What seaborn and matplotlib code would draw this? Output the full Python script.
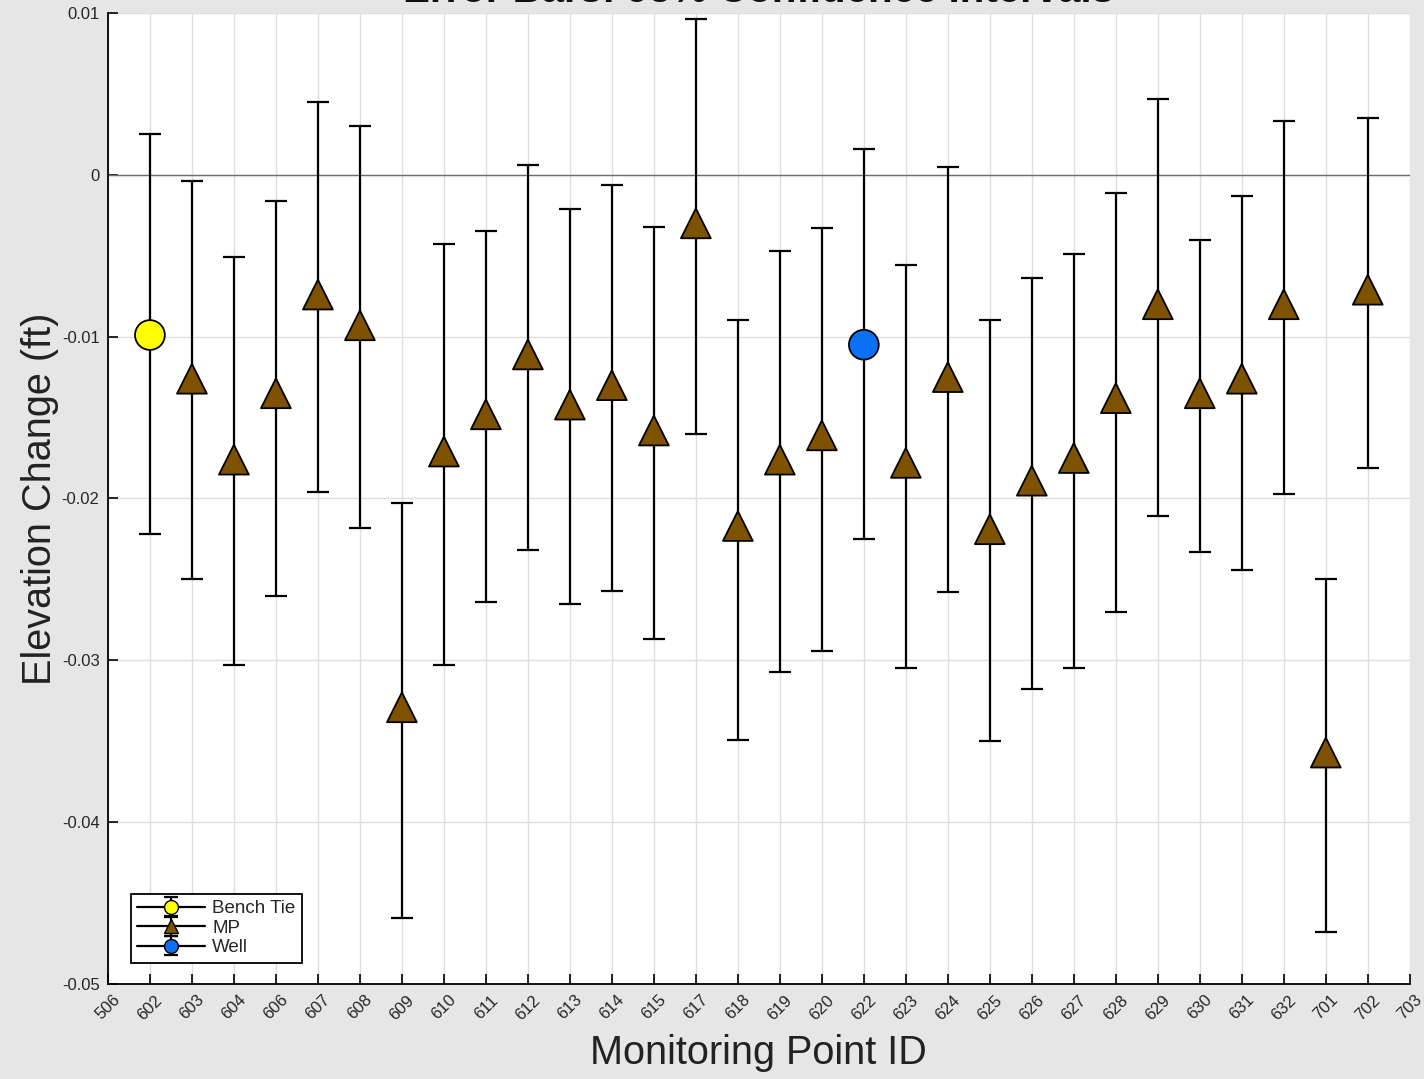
import numpy as np
import pandas as pd
import seaborn as sns
import matplotlib.pyplot as plt

# monitoring point ids along the x axis (506 and 703 are empty padding ticks)
point_ids = ["506", "602", "603", "604", "606", "607", "608", "609", "610", "611",
             "612", "613", "614", "615", "617", "618", "619", "620", "622", "623",
             "624", "625", "626", "627", "628", "629", "630", "631", "632", "701",
             "702", "703"]

data_ids = ["602", "603", "604", "606", "607", "608", "609", "610", "611", "612",
            "613", "614", "615", "617", "618", "619", "620", "622", "623", "624",
            "625", "626", "627", "628", "629", "630", "631", "632", "701", "702"]
point_type = ["Bench Tie", "MP", "MP", "MP", "MP", "MP", "MP", "MP", "MP", "MP",
              "MP", "MP", "MP", "MP", "MP", "MP", "MP", "Well", "MP", "MP",
              "MP", "MP", "MP", "MP", "MP", "MP", "MP", "MP", "MP", "MP"]
change = [-0.0099, -0.0126, -0.0176, -0.0135, -0.0074, -0.0093, -0.0329, -0.0171, -0.0148, -0.0111,
          -0.0142, -0.0130, -0.0158, -0.0030, -0.0217, -0.0176, -0.0161, -0.0105, -0.0178, -0.0125,
          -0.0219, -0.0189, -0.0175, -0.0138, -0.0080, -0.0135, -0.0126, -0.0080, -0.0357, -0.0071]
ci_upper = [0.0025, -0.0004, -0.0051, -0.0016, 0.0045, 0.0030, -0.0203, -0.0043, -0.0035, 0.0006,
            -0.0021, -0.0006, -0.0032, 0.0096, -0.0090, -0.0047, -0.0033, 0.0016, -0.0056, 0.0005,
            -0.0090, -0.0064, -0.0049, -0.0011, 0.0047, -0.0040, -0.0013, 0.0033, -0.0250, 0.0035]
ci_lower = [-0.0222, -0.0250, -0.0303, -0.0260, -0.0196, -0.0218, -0.0459, -0.0303, -0.0264, -0.0232,
            -0.0265, -0.0257, -0.0287, -0.0160, -0.0349, -0.0307, -0.0294, -0.0225, -0.0305, -0.0258,
            -0.0350, -0.0318, -0.0305, -0.0270, -0.0211, -0.0233, -0.0244, -0.0197, -0.0468, -0.0181]

df = pd.DataFrame({"id": data_ids, "type": point_type, "change": change,
                   "lo": ci_lower, "hi": ci_upper})
df["pos"] = [point_ids.index(i) for i in df["id"]]

styles = {
    "Bench Tie": dict(marker="o", color="#ffff00"),
    "MP": dict(marker="^", color="#7f5200"),
    "Well": dict(marker="o", color="#0a70f5"),
}

sns.set_style("whitegrid")
plt.rcParams["font.family"] = ["Liberation Sans", "DejaVu Sans"]

fig = plt.figure(figsize=(14.24, 10.79), dpi=100, facecolor="#e6e6e6")
ax = fig.add_axes([0.0758, 0.088, 0.9142, 0.900])
ax.set_facecolor("white")

# zero reference line
ax.axhline(0, color="#6e6e6e", lw=1, zorder=1)

handles = []
for name in ["Bench Tie", "MP", "Well"]:
    sub = df[df["type"] == name]
    st = styles[name]
    yerr = np.vstack([sub["change"] - sub["lo"], sub["hi"] - sub["change"]])
    ax.errorbar(sub["pos"], sub["change"], yerr=yerr, fmt="none", ecolor="black",
                elinewidth=1.6, capsize=8, capthick=1.6, zorder=2)
    # legend-only handle: line through marker with a small error bar
    h = ax.errorbar([np.nan], [np.nan], yerr=[np.nan], fmt="-" + st["marker"],
                    color="black", lw=1.6, mfc=st["color"], mec="black", ms=10,
                    elinewidth=1.6, capsize=5, capthick=1.6, label=name)
    handles.append(h)

sns.scatterplot(data=df, x="pos", y="change", hue="type", style="type",
                palette={k: v["color"] for k, v in styles.items()},
                markers={k: v["marker"] for k, v in styles.items()},
                s=460, edgecolor="black", linewidth=1.3, zorder=3, legend=False, ax=ax)

ax.set_xlim(0, len(point_ids) - 1)
ax.set_ylim(-0.05, 0.01)
ax.set_xticks(range(len(point_ids)))
ax.set_xticklabels(point_ids, rotation=45, ha="center", fontsize=12)
ax.set_yticks(np.arange(-0.05, 0.0101, 0.01))
ax.set_yticklabels(["-0.05", "-0.04", "-0.03", "-0.02", "-0.01", "0", "0.01"], fontsize=12)
ax.tick_params(axis="both", direction="in", length=7, width=1.2, color="black",
               left=True, bottom=True, pad=6)
ax.grid(True, color="#dedede", lw=1)
for side in ["top", "right"]:
    ax.spines[side].set_visible(False)
for side in ["left", "bottom"]:
    ax.spines[side].set_color("black")
    ax.spines[side].set_linewidth(1.3)

ax.set_xlabel("Monitoring Point ID", fontsize=28.5, color="#222222", labelpad=8)
ax.set_ylabel("Elevation Change (ft)", fontsize=28.5, color="#222222", labelpad=2)

leg = ax.legend(handles=handles, labels=["Bench Tie", "MP", "Well"],
                loc="lower left", bbox_to_anchor=(0.0175, 0.022), fontsize=13.5,
                frameon=True, fancybox=False, edgecolor="black", framealpha=1,
                handlelength=3.6, borderpad=0.35, labelspacing=0.12, handletextpad=0.4,
                borderaxespad=0.0)
leg.get_frame().set_linewidth(1.3)

# title sits mostly above the canvas, as in the source figure
fig.text(0.533, 0.9985, "Error Bars: 95% Confidence Intervals", ha="center",
         va="baseline", fontsize=29, fontweight="bold", color="#111111")

fig.savefig("out.png", dpi=100, facecolor=fig.get_facecolor())
